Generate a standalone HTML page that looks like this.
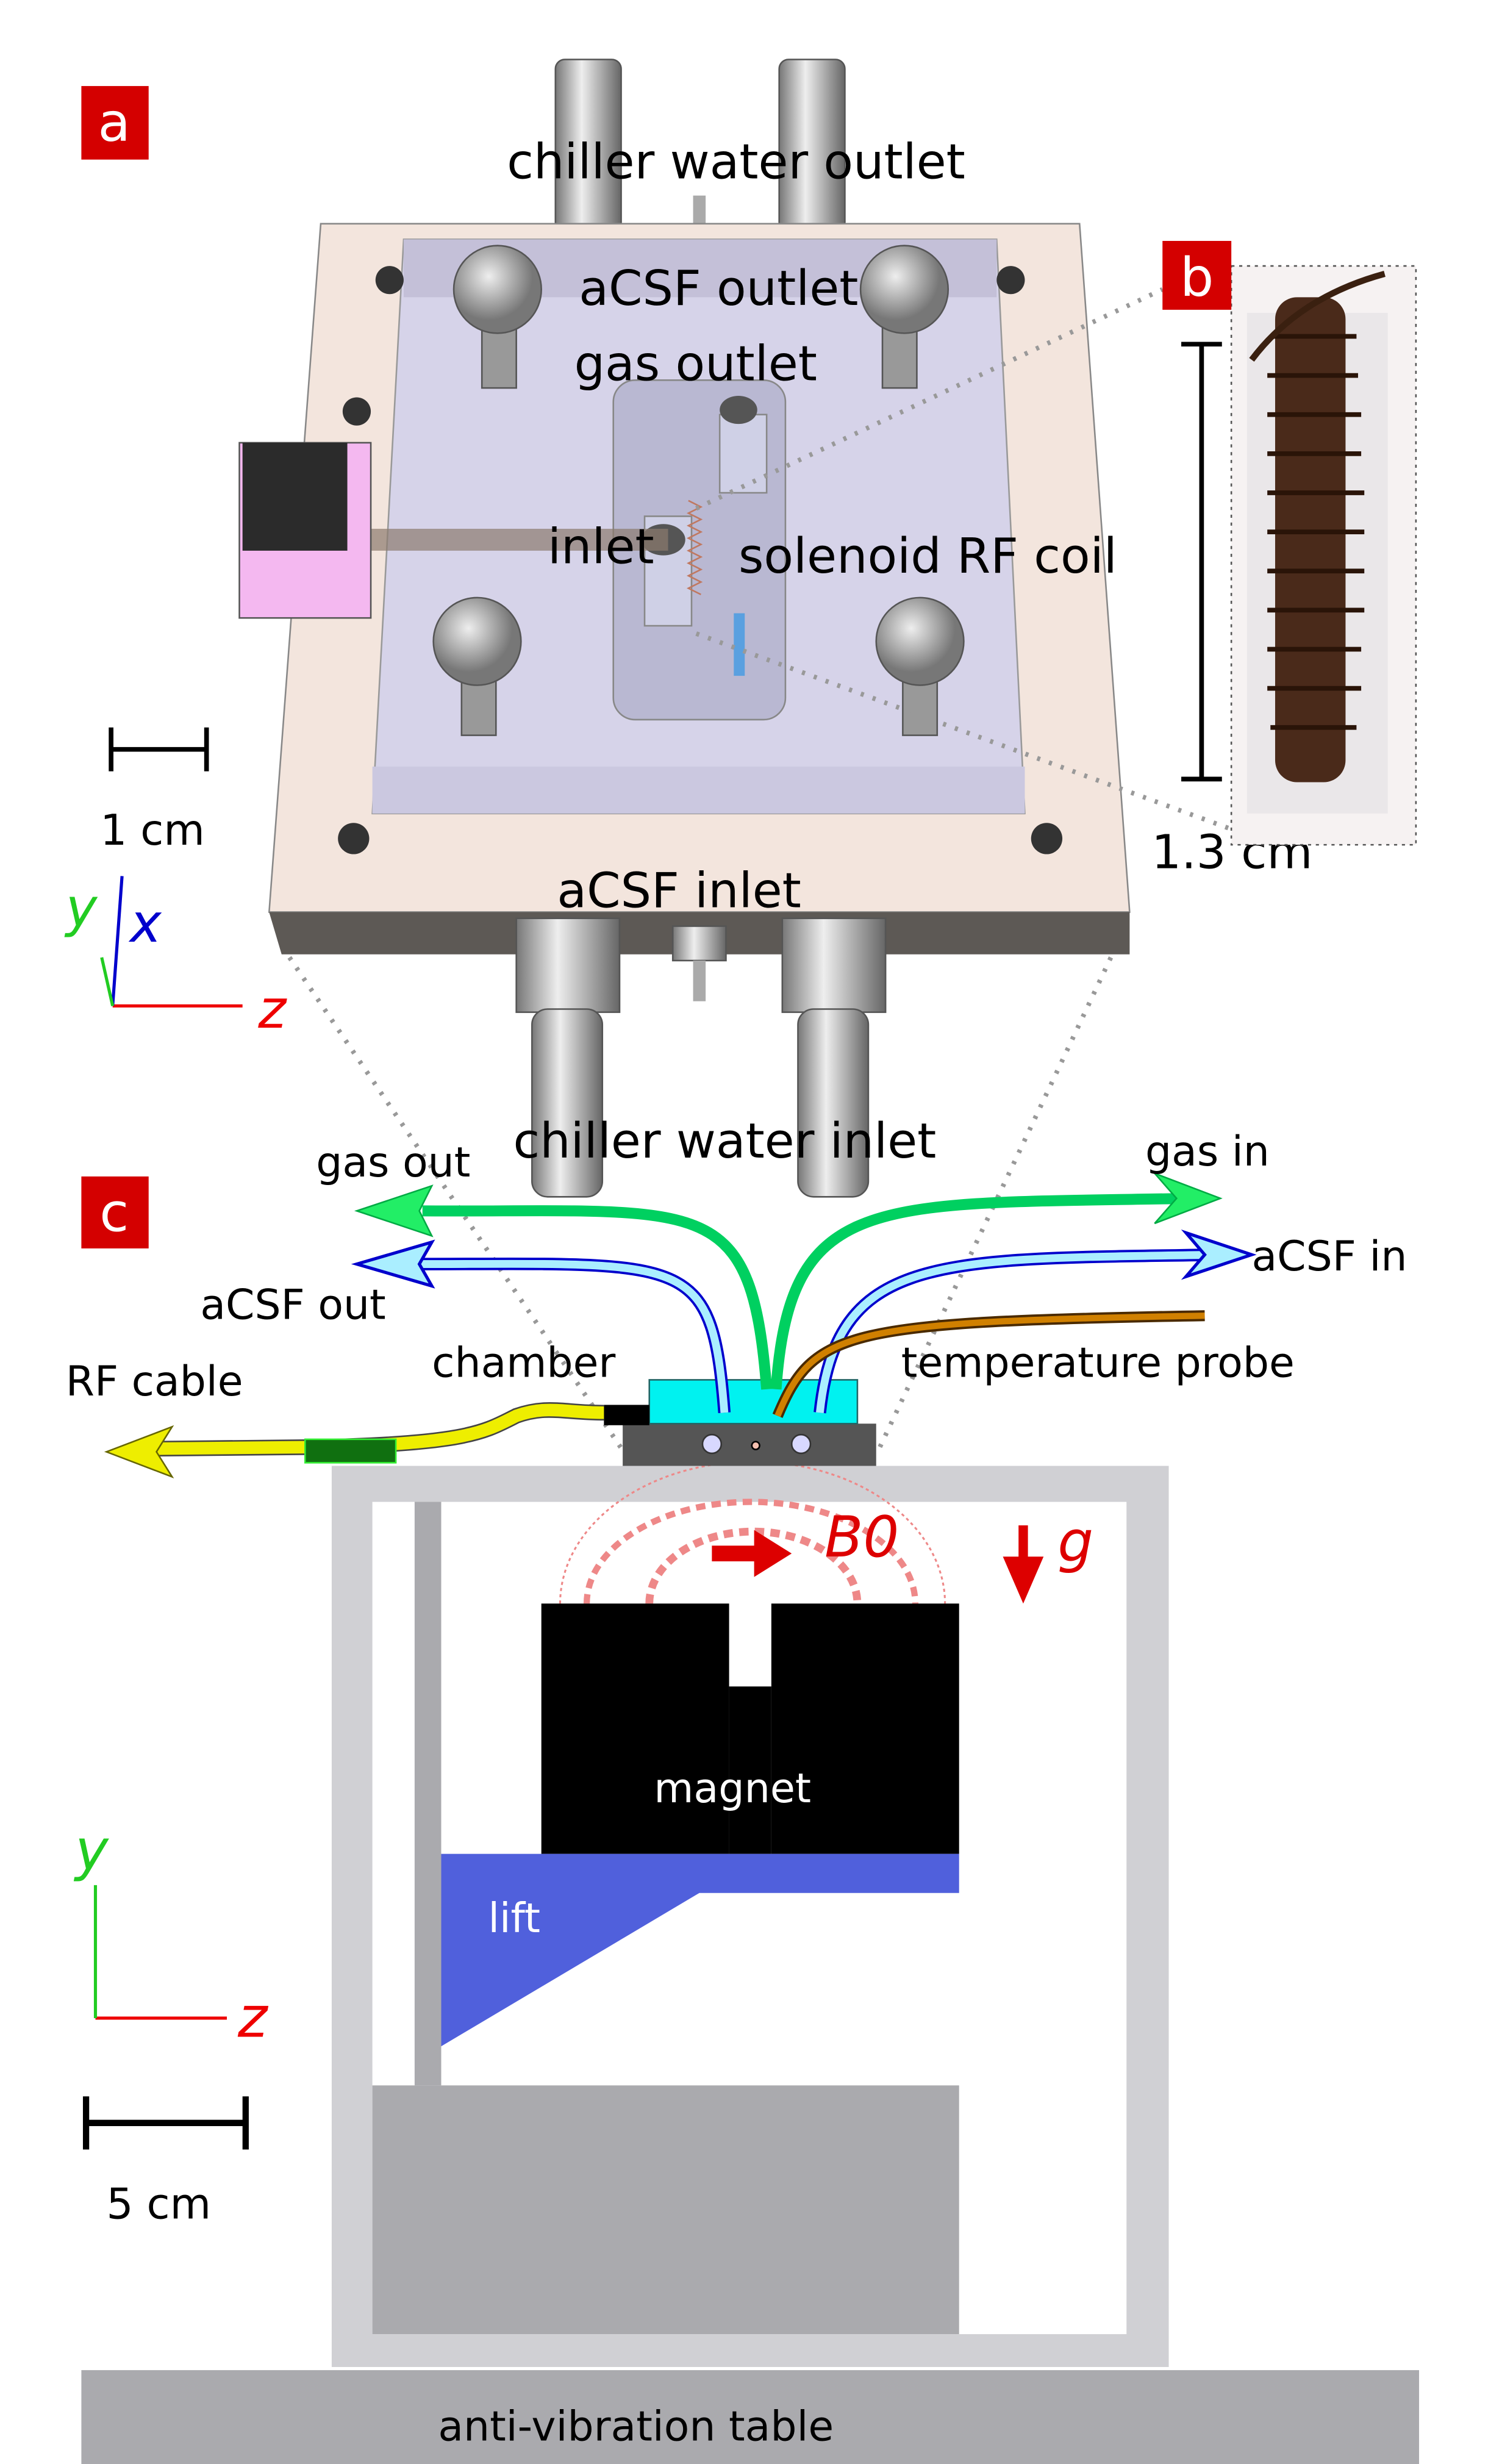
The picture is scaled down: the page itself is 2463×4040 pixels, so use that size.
<!DOCTYPE html>
<html><head><meta charset="utf-8"><style>
html,body{margin:0;padding:0;background:#fff}
svg{display:block}
text{font-family:"DejaVu Sans","Liberation Sans",sans-serif}
</style></head><body>
<svg width="2463" height="4040" viewBox="0 0 960 1575" preserveAspectRatio="none" xmlns="http://www.w3.org/2000/svg">
<defs>
<linearGradient id="cyl" x1="0" x2="1"><stop offset="0" stop-color="#777"/><stop offset="0.4" stop-color="#eee"/><stop offset="1" stop-color="#666"/></linearGradient>
<radialGradient id="knob" cx="0.4" cy="0.35"><stop offset="0" stop-color="#eee"/><stop offset="1" stop-color="#777"/></radialGradient>
</defs>
<rect width="960" height="1575" fill="#fff"/>
<rect x="52" y="55" width="43" height="47" fill="#d40000"/>
<text x="73" y="90" font-size="34" fill="#fff" text-anchor="middle">a</text>
<rect x="355" y="38" width="42" height="110" rx="6" fill="url(#cyl)" stroke="#555"/>
<rect x="498" y="38" width="42" height="110" rx="6" fill="url(#cyl)" stroke="#555"/>
<rect x="443" y="125" width="8" height="20" fill="#aaa"/>
<polygon points="205,143 690,143 722,583 172,583" fill="#f3e5dd" stroke="#888"/>
<polygon points="172,583 722,583 722,610 180,610" fill="#5d5955"/>
<polygon points="258,153 637,153 655,520 238,520" fill="#d6d3e9" stroke="#999"/>
<polygon points="258,153 637,153 637,190 258,190" fill="#c4c0d8"/>
<polygon points="238,490 655,490 655,520 238,520" fill="#cbc8e0"/>
<rect x="392" y="243" width="110" height="217" rx="14" fill="#b9b8d2" stroke="#888"/>
<rect x="460" y="265" width="30" height="50" fill="#cfd0e6" stroke="#888"/>
<rect x="412" y="330" width="30" height="70" fill="#cfd0e6" stroke="#888"/>
<rect x="469" y="392" width="7" height="40" fill="#5aa0e0"/>
<g fill="url(#knob)" stroke="#555">
<rect x="308" y="200" width="22" height="48" fill="#999"/><ellipse cx="318" cy="185" rx="28" ry="28"/>
<rect x="564" y="200" width="22" height="48" fill="#999"/><ellipse cx="578" cy="185" rx="28" ry="28"/>
<rect x="295" y="425" width="22" height="45" fill="#999"/><ellipse cx="305" cy="410" rx="28" ry="28"/>
<rect x="577" y="425" width="22" height="45" fill="#999"/><ellipse cx="588" cy="410" rx="28" ry="28"/>
</g>
<ellipse cx="472" cy="262" rx="12" ry="9" fill="#555"/><ellipse cx="424" cy="345" rx="14" ry="10" fill="#555"/>
<g fill="#333"><circle cx="249" cy="179" r="9"/><circle cx="646" cy="179" r="9"/><circle cx="228" cy="263" r="9"/><circle cx="226" cy="536" r="10"/><circle cx="669" cy="536" r="10"/></g>
<rect x="237" y="338" width="190" height="14" fill="#8c7a6e" opacity="0.7"/>
<path d="M440 320 l8 4 l-8 4 l8 4 l-8 4 l8 4 l-8 4 l8 4 l-8 4 l8 4 l-8 4 l8 4 l-8 4 l8 4 l-8 4 l8 4" stroke="#c07860" fill="none"/>
<rect x="153" y="283" width="84" height="112" fill="#f4b8f0" stroke="#555"/>
<rect x="155" y="283" width="67" height="69" fill="#2b2b2b"/>
<rect x="330" y="587" width="66" height="60" fill="url(#cyl)" stroke="#555"/>
<rect x="340" y="645" width="45" height="120" rx="10" fill="url(#cyl)" stroke="#555"/>
<rect x="500" y="587" width="66" height="60" fill="url(#cyl)" stroke="#555"/>
<rect x="510" y="645" width="45" height="120" rx="10" fill="url(#cyl)" stroke="#555"/>
<rect x="430" y="592" width="34" height="22" fill="url(#cyl)" stroke="#555"/><rect x="443" y="614" width="8" height="26" fill="#aaa"/>
<g stroke="#999" stroke-width="3" stroke-dasharray="2 6" fill="none">
<line x1="445" y1="325" x2="743" y2="185"/><line x1="445" y1="405" x2="787" y2="530"/>
<line x1="185" y1="612" x2="400" y2="930"/><line x1="710" y1="612" x2="560" y2="930"/>
</g>
<g font-size="31" fill="#000">
<text x="324" y="114">chiller water outlet</text>
<text x="370" y="195">aCSF outlet</text>
<text x="367" y="243">gas outlet</text>
<text x="350" y="360">inlet</text>
<text x="472" y="366">solenoid RF coil</text>
<text x="356" y="580">aCSF inlet</text>
<text x="328" y="740">chiller water inlet</text>
<text x="64" y="540" font-size="27">1 cm</text>
<text x="736" y="555" font-size="30">1.3 cm</text>
</g>
<g stroke="#000" stroke-width="3"><line x1="71" y1="479" x2="132" y2="479"/><line x1="71" y1="465" x2="71" y2="493"/><line x1="132" y1="465" x2="132" y2="493"/></g>
<line x1="72" y1="643" x2="155" y2="643" stroke="#e00" stroke-width="2"/>
<line x1="72" y1="643" x2="78" y2="560" stroke="#00c" stroke-width="2"/>
<line x1="72" y1="643" x2="65" y2="612" stroke="#2c2" stroke-width="2"/>
<text x="42" y="592" font-size="34" font-style="italic" fill="#2c2" font-family="Liberation Serif">y</text>
<text x="83" y="602" font-size="34" font-style="italic" fill="#00c" font-family="Liberation Serif">x</text>
<text x="165" y="657" font-size="34" font-style="italic" fill="#e00" font-family="Liberation Serif">z</text>
<rect x="787" y="170" width="118" height="370" fill="#f6f2f2" stroke="#555" stroke-dasharray="2 3"/>
<rect x="797" y="200" width="90" height="320" fill="#e6e2e6" opacity="0.7"/>
<rect x="815" y="190" width="45" height="310" rx="14" fill="#4a2a1a"/>
<g stroke="#2a1408" stroke-width="3" fill="none">
<path d="M812 215 h55 M810 240 h58 M810 265 h60 M810 290 h60 M810 315 h62 M810 340 h62 M810 365 h62 M810 390 h62 M810 415 h60 M810 440 h60 M812 465 h55"/>
</g>
<path d="M800 230 q30 -40 85 -55" stroke="#3a2010" stroke-width="4" fill="none"/>
<rect x="743" y="154" width="44" height="44" fill="#d40000"/>
<text x="765" y="189" font-size="34" fill="#fff" text-anchor="middle">b</text>
<g stroke="#000" stroke-width="3"><line x1="768" y1="220" x2="768" y2="498"/><line x1="755" y1="220" x2="781" y2="220"/><line x1="755" y1="498" x2="781" y2="498"/></g>
<rect x="52" y="752" width="43" height="46" fill="#d40000"/>
<text x="73" y="787" font-size="34" fill="#fff" text-anchor="middle">c</text>
<rect x="212" y="937" width="535" height="576" fill="#d0d0d4"/>
<rect x="238" y="960" width="482" height="532" fill="#fff"/>
<rect x="265" y="960" width="17" height="373" fill="#aaaaae"/>
<rect x="238" y="1333" width="375" height="159" fill="#aaaaae"/>
<g fill="none" stroke="#e88" >
<path d="M358 1025 A122 90 0 0 1 604 1025" stroke-dasharray="2 2" stroke-width="1.2"/>
<path d="M375 1025 A105 65 0 0 1 585 1025" stroke-dasharray="6 4" stroke-width="4"/>
<path d="M415 1025 A65 45 0 0 1 548 1025" stroke-dasharray="6 4" stroke-width="5"/>
</g>
<rect x="346" y="1025" width="120" height="160" fill="#000"/>
<rect x="493" y="1025" width="120" height="160" fill="#000"/>
<rect x="466" y="1078" width="27" height="107" fill="#000"/>
<path d="M455 988 h27 v-10 l24 15 l-24 15 v-10 h-27z" fill="#d00"/>
<text x="527" y="995" font-size="36" font-style="italic" fill="#d00" font-family="Liberation Serif">B0</text>
<path d="M651 975 v20 h-10 l13 30 l13 -30 h-10 v-20z" fill="#d00"/>
<text x="676" y="998" font-size="36" font-style="italic" fill="#d00" font-family="Liberation Serif">g</text>
<text x="418" y="1152" font-size="26" fill="#fff">magnet</text>
<polygon points="282,1185 613,1185 613,1210 447,1210 282,1308" fill="#5060dc"/>
<text x="312" y="1235" font-size="26" fill="#fff">lift</text>
<rect x="52" y="1515" width="855" height="60" fill="#aaaaae"/>
<text x="280" y="1560" font-size="26.5" fill="#000">anti-vibration table</text>
<line x1="61" y1="1290" x2="145" y2="1290" stroke="#e00" stroke-width="2"/>
<line x1="61" y1="1290" x2="61" y2="1205" stroke="#2c2" stroke-width="2"/>
<text x="48" y="1195" font-size="36" font-style="italic" fill="#2c2" font-family="Liberation Serif">y</text>
<text x="152" y="1302" font-size="36" font-style="italic" fill="#e00" font-family="Liberation Serif">z</text>
<g stroke="#000" stroke-width="4"><line x1="55" y1="1357" x2="157" y2="1357"/><line x1="55" y1="1340" x2="55" y2="1374"/><line x1="157" y1="1340" x2="157" y2="1374"/></g>
<text x="68" y="1418" font-size="27">5 cm</text>
<rect x="398" y="910" width="162" height="27" fill="#555"/>
<rect x="415" y="882" width="133" height="28" fill="#00f2f0" stroke="#266" />
<rect x="386" y="898" width="29" height="13" fill="#000"/>
<ellipse cx="455" cy="923" rx="6" ry="6" fill="#d8d8ff" stroke="#333"/>
<ellipse cx="512" cy="923" rx="6" ry="6" fill="#d8d8ff" stroke="#333"/>
<circle cx="483" cy="924" r="2.5" fill="#f5c0b0" stroke="#000"/>
<path d="M100 926 L200 925 C300 923 310 915 330 905 C350 898 360 903 386 903" stroke="#444" stroke-width="10" fill="none"/>
<path d="M100 926 L200 925 C300 923 310 915 330 905 C350 898 360 903 386 903" stroke="#ee0" stroke-width="8" fill="none"/>
<polygon points="68,928 110,912 100,928 110,944" fill="#ee0" stroke="#660"/>
<rect x="195" y="920" width="58" height="15" fill="#107010" stroke="#3e3"/>
<g fill="none">
<path d="M490 888 C480 760 450 775 270 774" stroke="#00d060" stroke-width="7"/>
<path d="M496 888 C505 760 560 770 760 766" stroke="#00d060" stroke-width="7"/>
<path d="M463 903 C455 800 440 808 265 808" stroke="#00c" stroke-width="8"/>
<path d="M463 903 C455 800 440 808 265 808" stroke="#aef" stroke-width="5"/>
<path d="M524 903 C535 800 600 805 780 802" stroke="#00c" stroke-width="8"/>
<path d="M524 903 C535 800 600 805 780 802" stroke="#aef" stroke-width="5"/>
<path d="M497 905 C520 850 540 845 770 841" stroke="#4a2a00" stroke-width="7"/>
<path d="M497 905 C520 850 540 845 770 841" stroke="#d08000" stroke-width="4"/>
</g>
<polygon points="228,774 276,758 268,774 276,790" fill="#2e6" stroke="#0a4"/>
<polygon points="228,808 276,794 268,808 276,822" fill="#aef" stroke="#00c" stroke-width="2"/>
<polygon points="780,766 738,750 752,766 738,782" fill="#2e6" stroke="#0a4"/>
<polygon points="800,802 758,788 770,802 758,816" fill="#aef" stroke="#00c" stroke-width="2"/>
<g font-size="26.5" fill="#000">
<text x="202" y="752">gas out</text>
<text x="128" y="843">aCSF out</text>
<text x="42" y="892">RF cable</text>
<text x="276" y="880">chamber</text>
<text x="732" y="745">gas in</text>
<text x="800" y="812">aCSF in</text>
<text x="576" y="880">temperature probe</text>
</g>
</svg>
</body></html>
